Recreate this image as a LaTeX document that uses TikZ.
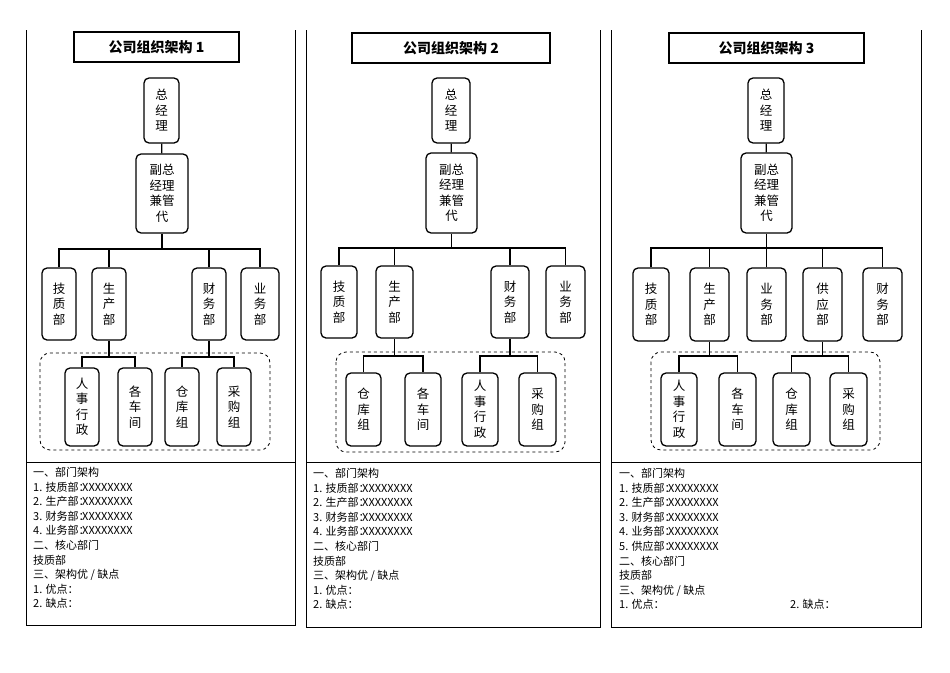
\documentclass[tikz,border=0pt]{standalone}
\usepackage{fontspec}
\setmainfont{Noto Sans CJK SC}
\begin{document}
\begin{tikzpicture}[x=1pt,y=-1pt,
 ob/.style={draw,line width=1.3pt,rounded corners=5pt,fill=white,inner sep=0pt,align=center,font=\fontsize{12.5}{15.5}\selectfont},
 tb/.style={draw,line width=1.5pt,inner sep=0pt,font=\fontsize{14}{16}\selectfont\bfseries},
 ln/.style={line width=1.3pt},
 dbox/.style={draw,dashed,line width=0.8pt,rounded corners=10pt},
 frame/.style={draw,line width=0.9pt},
 txt/.style={anchor=north west,align=left,inner sep=0pt,font=\fontsize{11}{14.6}\selectfont}]
\useasboundingbox (0,0) rectangle (950,672);
\newcommand\obox[6]{\node[ob,minimum width={(#4-#2)*1pt},minimum height={(#5-#3)*1pt}] (#1) at ({(#2+#4)/2},{(#3+#5)/2}) {#6};}
\newcommand\tbox[6]{\node[tb,minimum width={(#4-#2)*1pt},minimum height={(#5-#3)*1pt}] (#1) at ({(#2+#4)/2},{(#3+#5)/2}) {#6};}
\newcommand\lb[1]{\makebox[49pt][l]{#1}}
% ===== panel 1 =====
\draw[frame] (26,30) -- (26,462) (295,30) -- (295,462);
\draw[frame] (26,462) rectangle (295,625);
\tbox{t1}{74}{32}{239}{62}{公司组织架构 1}
\draw[dbox] (40,353) rectangle (270,450);
\obox{a1}{144}{78}{179}{143}{总\\经\\理}
\obox{b1}{136}{154}{188}{233}{副总\\经理\\兼管\\代}
\coordinate (r1) at (160,249);
\obox{c11}{42}{268}{76}{340}{技\\质\\部}
\obox{c12}{92}{268}{126}{340}{生\\产\\部}
\obox{c13}{192}{268}{226}{340}{财\\务\\部}
\obox{c14}{241}{268}{279}{340}{业\\务\\部}
\obox{d11}{65}{368}{99}{446}{人\\事\\行\\政}
\obox{d12}{118}{368}{152}{446}{各\\车\\间}
\obox{d13}{165}{368}{199}{446}{仓\\库\\组}
\obox{d14}{217}{368}{251}{446}{采\\购\\组}
\coordinate (s1) at (0,357);
\draw[ln] (a1) -- (b1);
\draw[ln] (b1.south) -- (b1.south|-r1);
\draw[ln] (c11.north) -- (c11.north|-r1) -- (c14.north|-r1) -- (c14.north);
\draw[ln] (c12.north) -- (c12.north|-r1) (c13.north) -- (c13.north|-r1);
\draw[ln] (c12.south) -- (c12.south|-s1) (d11.north) -- (d11.north|-s1) -- (d12.north|-s1) -- (d12.north);
\draw[ln] (c13.south) -- (c13.south|-s1) (d13.north) -- (d13.north|-s1) -- (d14.north|-s1) -- (d14.north);
\node[txt] (x1) at (33,467) {一、部门架构\\\lb{1. 技质部：}XXXXXXXX\\\lb{2. 生产部：}XXXXXXXX\\\lb{3. 财务部：}XXXXXXXX\\\lb{4. 业务部：}XXXXXXXX\\二、核心部门\\技质部\\三、架构优 / 缺点\\1. 优点：\\2. 缺点：};
% ===== panel 2 =====
\draw[frame] (306,30) -- (306,462) (600,30) -- (600,462);
\draw[frame] (306,462) rectangle (600,627);
\tbox{t2}{352}{33}{550}{63}{公司组织架构 2}
\draw[dbox] (336,352) rectangle (565,452);
\obox{a2}{432}{78}{470}{143}{总\\经\\理}
\obox{b2}{426}{153}{477}{233}{副总\\经理\\兼管\\代}
\coordinate (r2) at (451,248);
\obox{c21}{321}{266}{357}{338}{技\\质\\部}
\obox{c22}{376}{266}{413}{338}{生\\产\\部}
\obox{c23}{491}{266}{529}{338}{财\\务\\部}
\obox{c24}{546}{266}{585}{338}{业\\务\\部}
\obox{d21}{346}{373}{381}{446}{仓\\库\\组}
\obox{d22}{405}{373}{441}{446}{各\\车\\间}
\obox{d23}{462}{373}{498}{446}{人\\事\\行\\政}
\obox{d24}{519}{373}{556}{446}{采\\购\\组}
\coordinate (s2) at (0,356);
\draw[ln] (a2) -- (b2);
\draw[ln] (b2.south) -- (b2.south|-r2);
\draw[ln] (c21.north) -- (c21.north|-r2) -- (c24.north|-r2) -- (c24.north);
\draw[ln] (c22.north) -- (c22.north|-r2) (c23.north) -- (c23.north|-r2);
\draw[ln] (c22.south) -- (c22.south|-s2) (d21.north) -- (d21.north|-s2) -- (d22.north|-s2) -- (d22.north);
\draw[ln] (c23.south) -- (c23.south|-s2) (d23.north) -- (d23.north|-s2) -- (d24.north|-s2) -- (d24.north);
\node[txt] (x2) at (313,468) {一、部门架构\\\lb{1. 技质部：}XXXXXXXX\\\lb{2. 生产部：}XXXXXXXX\\\lb{3. 财务部：}XXXXXXXX\\\lb{4. 业务部：}XXXXXXXX\\二、核心部门\\技质部\\三、架构优 / 缺点\\1. 优点：\\2. 缺点：};
% ===== panel 3 =====
\draw[frame] (611,30) -- (611,462) (921,30) -- (921,462);
\draw[frame] (611,462) rectangle (921,627);
\tbox{t3}{669}{33}{864}{63}{公司组织架构 3}
\draw[dbox] (651,352) rectangle (880,450);
\obox{a3}{748}{78}{784}{143}{总\\经\\理}
\obox{b3}{741}{153}{792}{233}{副总\\经理\\兼管\\代}
\coordinate (r3) at (766,248);
\obox{c31}{633}{268}{669}{341}{技\\质\\部}
\obox{c32}{690}{268}{729}{341}{生\\产\\部}
\obox{c33}{747}{268}{786}{341}{业\\务\\部}
\obox{c34}{803}{268}{842}{341}{供\\应\\部}
\obox{c35}{863}{268}{902}{341}{财\\务\\部}
\obox{d31}{661}{373}{697}{446}{人\\事\\行\\政}
\obox{d32}{719}{373}{756}{446}{各\\车\\间}
\obox{d33}{773}{373}{810}{446}{仓\\库\\组}
\obox{d34}{830}{373}{867}{446}{采\\购\\组}
\coordinate (s3) at (0,356);
\draw[ln] (a3) -- (b3);
\draw[ln] (b3.south) -- (b3.south|-r3);
\draw[ln] (c31.north) -- (c31.north|-r3) -- (c35.north|-r3) -- (c35.north);
\draw[ln] (c32.north) -- (c32.north|-r3) (c33.north) -- (c33.north|-r3) (c34.north) -- (c34.north|-r3);
\draw[ln] (c32.south) -- (c32.south|-s3) (d31.north) -- (d31.north|-s3) -- (d32.north|-s3) -- (d32.north);
\draw[ln] (c34.south) -- (c34.south|-s3) (d33.north) -- (d33.north|-s3) -- (d34.north|-s3) -- (d34.north);
\node[txt] (x3) at (619,468) {一、部门架构\\\lb{1. 技质部：}XXXXXXXX\\\lb{2. 生产部：}XXXXXXXX\\\lb{3. 财务部：}XXXXXXXX\\\lb{4. 业务部：}XXXXXXXX\\\lb{5. 供应部：}XXXXXXXX\\二、核心部门\\技质部\\三、架构优 / 缺点\\\makebox[171pt][l]{1. 优点：}2. 缺点：};
\end{tikzpicture}
\end{document}
